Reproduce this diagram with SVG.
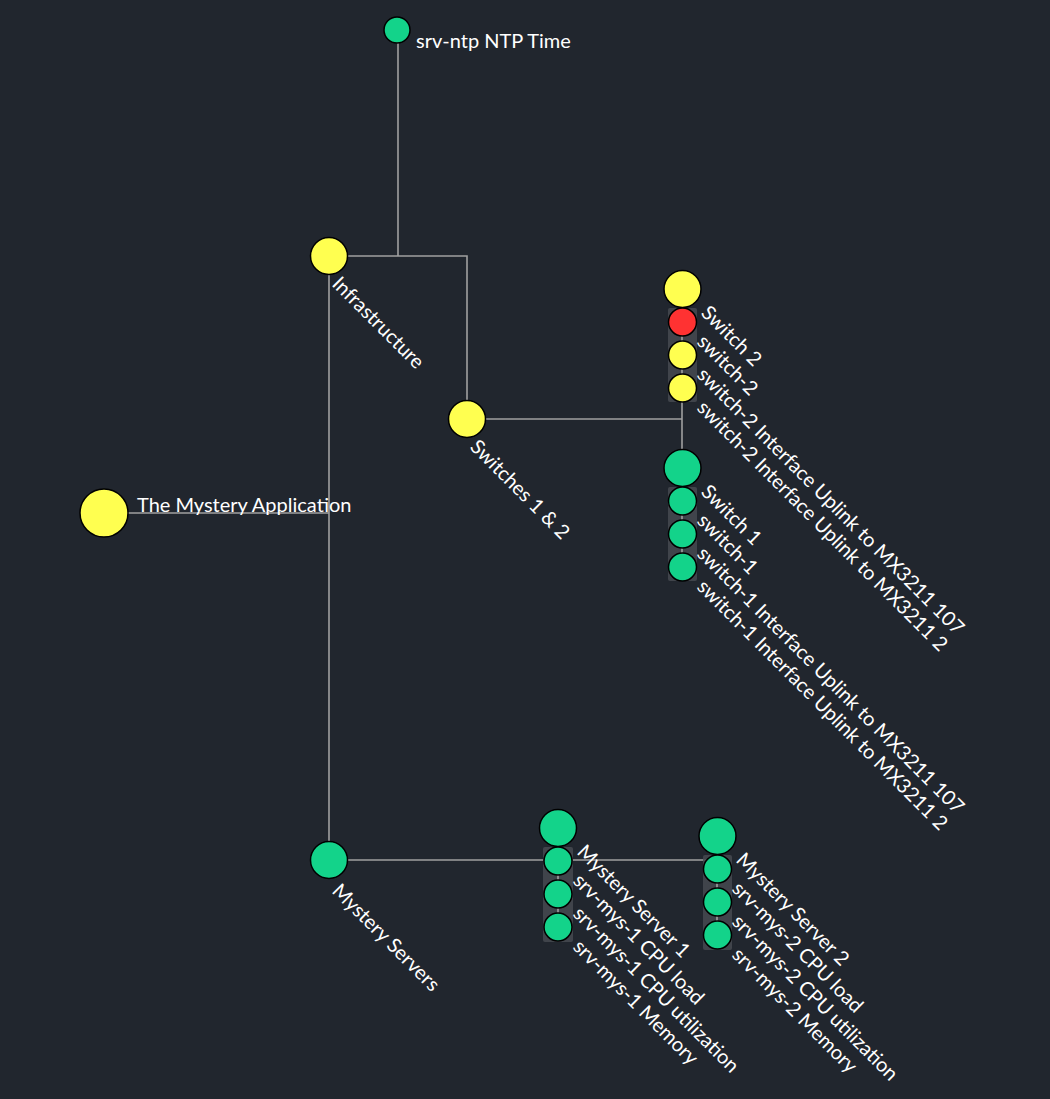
<svg xmlns="http://www.w3.org/2000/svg" width="1050" height="1099" viewBox="0 0 1050 1099">
<style>
.bg{fill:#21262e}
.ln{stroke:#a0a0a0;stroke-width:1.6;fill:none}
.ok{fill:#13d38a;stroke:#000;stroke-width:1.5}
.warn{fill:#ffff50;stroke:#000;stroke-width:1.5}
.crit{fill:#ff3232;stroke:#000;stroke-width:1.5}
.box{fill:#454a50;opacity:0.85}
text{font-family:Lato,"Open Sans","DejaVu Sans",sans-serif;font-size:20px;fill:#ffffff}
</style>
<rect class="bg" x="0" y="0" width="1050" height="1099"/>
<g id="connectors">
<path class="ln" d="M104,513 H329"/>
<path class="ln" d="M329,256 V860"/>
<path class="ln" d="M329,256 H467 V419"/>
<path class="ln" d="M398,30 V256"/>
<path class="ln" d="M467,419 H682"/>
<path class="ln" d="M682,402 V468"/>
<path class="ln" d="M329,860 H717"/>
</g>
<g id="n-ntp">
<circle class="ok" cx="397" cy="30" r="13"/>
<text x="416" y="48">srv-ntp NTP Time</text>
</g>
<g id="n-app">
<circle class="warn" cx="104" cy="513" r="24"/>
<text x="137" y="512">The Mystery Application</text>
</g>
<g id="n-infra">
<circle class="warn" cx="329" cy="256" r="18.5"/>
<text transform="translate(331,285) rotate(45)">Infrastructure</text>
</g>
<g id="n-switches">
<circle class="warn" cx="467" cy="419" r="18.5"/>
<text transform="translate(469,448) rotate(45)">Switches 1 &amp; 2</text>
</g>
<g id="n-servers">
<circle class="ok" cx="329" cy="860" r="18.5"/>
<text transform="translate(331,892) rotate(45)">Mystery Servers</text>
</g>
<g id="n-switch2">
<rect class="box" x="668" y="308" width="29" height="94" rx="2"/>
<path class="ln" d="M682,322 V388"/>
<circle class="warn" cx="682.5" cy="289" r="18.5"/>
<circle class="crit" cx="682.5" cy="322" r="14"/>
<circle class="warn" cx="682.5" cy="355" r="14"/>
<circle class="warn" cx="682.5" cy="388" r="14"/>
<text transform="translate(700,314) rotate(45)">Switch 2</text>
<text transform="translate(696,343) rotate(45)">switch-2</text>
<text transform="translate(696,376) rotate(45)">switch-2 Interface Uplink to MX3211 107</text>
<text transform="translate(696,409) rotate(45)">switch-2 Interface Uplink to MX3211 2</text>
</g>
<g id="n-switch1">
<rect class="box" x="668" y="487" width="29" height="94" rx="2"/>
<path class="ln" d="M682,501 V567"/>
<circle class="ok" cx="682.5" cy="468" r="18.5"/>
<circle class="ok" cx="682.5" cy="501" r="14"/>
<circle class="ok" cx="682.5" cy="534" r="14"/>
<circle class="ok" cx="682.5" cy="567" r="14"/>
<text transform="translate(700,493) rotate(45)">Switch 1</text>
<text transform="translate(696,522) rotate(45)">switch-1</text>
<text transform="translate(696,555) rotate(45)">switch-1 Interface Uplink to MX3211 107</text>
<text transform="translate(696,588) rotate(45)">switch-1 Interface Uplink to MX3211 2</text>
</g>
<g id="n-mys1">
<rect class="box" x="543" y="847" width="30" height="95" rx="2"/>
<path class="ln" d="M558,861 V927"/>
<circle class="ok" cx="558" cy="828" r="18.5"/>
<circle class="ok" cx="558" cy="861" r="14"/>
<circle class="ok" cx="558" cy="894" r="14"/>
<circle class="ok" cx="558" cy="927" r="14"/>
<text transform="translate(576,853) rotate(45)">Mystery Server 1</text>
<text transform="translate(572,882) rotate(45)">srv-mys-1 CPU load</text>
<text transform="translate(572,915) rotate(45)">srv-mys-1 CPU utilization</text>
<text transform="translate(572,948) rotate(45)">srv-mys-1 Memory</text>
</g>
<g id="n-mys2">
<rect class="box" x="703" y="855" width="29" height="95" rx="2"/>
<path class="ln" d="M717,869 V935"/>
<circle class="ok" cx="717.5" cy="836" r="18.5"/>
<circle class="ok" cx="717.5" cy="869" r="14"/>
<circle class="ok" cx="717.5" cy="902" r="14"/>
<circle class="ok" cx="717.5" cy="935" r="14"/>
<text transform="translate(735,861) rotate(45)">Mystery Server 2</text>
<text transform="translate(731,890) rotate(45)">srv-mys-2 CPU load</text>
<text transform="translate(731,923) rotate(45)">srv-mys-2 CPU utilization</text>
<text transform="translate(731,956) rotate(45)">srv-mys-2 Memory</text>
</g>
</svg>
